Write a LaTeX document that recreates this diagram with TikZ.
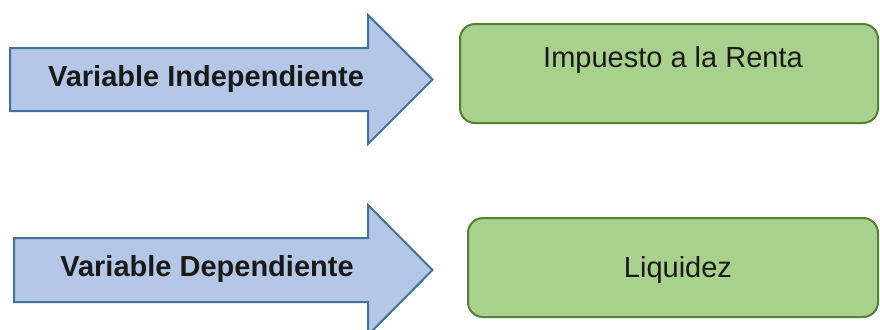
\documentclass[tikz,border=0pt]{standalone}
\usepackage{fontspec}
\setmainfont{Liberation Sans}
\definecolor{flechaazul}{HTML}{B4C7E7}
\definecolor{bordeazul}{HTML}{41719C}
\definecolor{cajaverde}{HTML}{A9D18E}
\definecolor{bordeverde}{HTML}{538135}

\begin{document}
\begin{tikzpicture}[x=0.5pt, y=-0.5pt,
		flecha/.style={draw=bordeazul, fill=flechaazul, line width=1pt},
		caja/.style={rectangle, rounded corners=7.5pt, draw=bordeverde, fill=cajaverde, line width=1pt, inner sep=0pt},
		texto/.style={anchor=base, font=\fontsize{14.5}{17}\selectfont, text=black!90}]
			\useasboundingbox (0,0) rectangle (880,329);
			\clip (0,0) rectangle (880,329);
			\draw[flecha] (10,48) -- (368,48) -- (368,15) -- (432.5,79.5) -- (368,144) -- (368,111) -- (10,111) -- cycle;
			\node[texto, font=\fontsize{14.5}{17}\selectfont\bfseries] (indep) at (206,86) {Variable Independiente};
			\draw[flecha] (14,238) -- (368,238) -- (368,205) -- (432.5,270) -- (368,335) -- (368,302) -- (14,302) -- cycle;
			\node[texto, font=\fontsize{14.5}{17}\selectfont\bfseries] (dep) at (207,276) {Variable Dependiente};
			\node[caja, minimum width=209pt, minimum height=49.5pt] (renta) at (669,73.5) {};
			\node[texto] (rentatxt) at (673,67) {Impuesto a la Renta};
			\node[caja, minimum width=205pt, minimum height=49.5pt] (liquidez) at (673,267.5) {};
			\node[texto] (liquideztxt) at (678,277) {Liquidez};
		\end{tikzpicture}
\end{document}
